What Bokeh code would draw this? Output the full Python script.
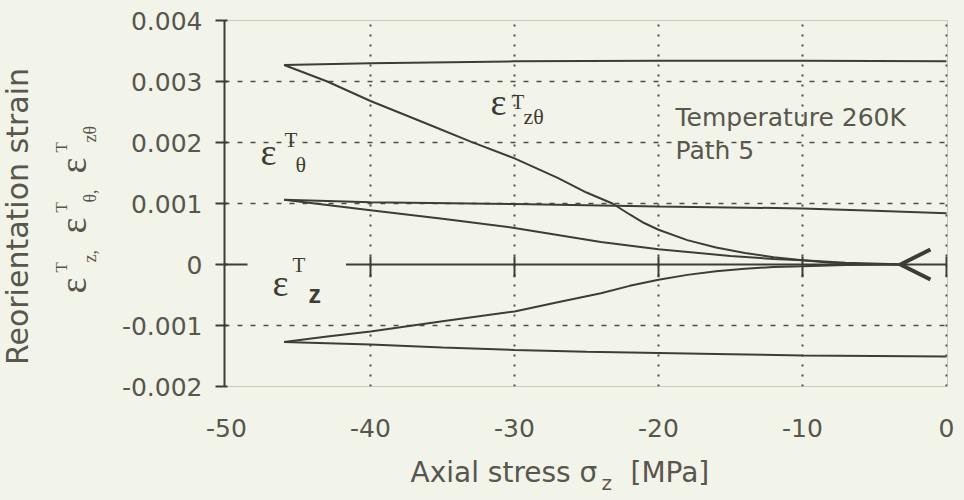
import math

from bokeh.embed import file_html
from bokeh.layouts import column, row
from bokeh.models import Arrow, CustomJSTickFormatter, FixedTicker, Label, OpenHead
from bokeh.plotting import figure
from bokeh.resources import INLINE

# ---- data: reorientation strain vs axial stress, temperature 260 K, path 5 ----
# shear component eps_z-theta
zt_load_stress = [-3, -6, -8, -10, -12, -14, -16, -18, -20, -21, -22, -23.2, -25, -27, -30, -33, -36, -40, -43, -46]
zt_load_strain = [0.0, 0.00001, 0.00003, 0.00007, 0.00012, 0.00019, 0.00028, 0.00040, 0.00057, 0.00068,
                  0.00082, 0.00100, 0.00118, 0.00142, 0.00174, 0.00201, 0.00230, 0.00268, 0.00300, 0.00327]
zt_unload_stress = [-46, -40, -30, -20, -10, 0]
zt_unload_strain = [0.00327, 0.00330, 0.00333, 0.00334, 0.00334, 0.00333]

# hoop component eps_theta
t_load_stress = [-3, -4, -7, -10, -12, -15, -20, -24, -30, -35, -40, -46]
t_load_strain = [0.0, 0.00001, 0.00003, 0.00007, 0.00009, 0.00014, 0.00025, 0.00037, 0.00060, 0.00075, 0.00089, 0.00106]
t_unload_stress = [-46, -40, -30, -20, -10, -5, 0]
t_unload_strain = [0.00106, 0.00102, 0.00099, 0.00095, 0.00092, 0.00088, 0.00084]

# axial component eps_z
z_load_stress = [-3, -4, -7, -10, -12, -14, -16, -18, -20, -22, -24, -27, -30, -35, -40, -43, -46]
z_load_strain = [0.0, 0.0, -0.00001, -0.00003, -0.00004, -0.00007, -0.00011, -0.00017, -0.00025, -0.00035,
                 -0.00047, -0.00062, -0.00077, -0.00093, -0.00110, -0.00118, -0.00127]
z_unload_stress = [-46, -43, -40, -35, -30, -25, -20, -15, -10, -5, 0]
z_unload_strain = [-0.00127, -0.00129, -0.00131, -0.00136, -0.00140, -0.00143, -0.00145, -0.00147, -0.00149,
                   -0.00150, -0.00151]

x_ticks = [-50, -40, -30, -20, -10, 0]
y_ticks = [-0.002, -0.001, 0, 0.001, 0.002, 0.003, 0.004]
x_grid = [-40, -30, -20, -10, 0]
y_grid = [-0.001, 0.001, 0.002, 0.003]

# ---- styling ----
BG = "#f3f4e9"
INK = "#3d3d36"
TXT = "#57574f"
GRID = "#4d4d46"

W, H = 964, 500
LEFT_W = 110      # strip holding the rotated y titles
BOTTOM_H = 50     # strip holding the x title
X0, X1 = -50.14, 0.07
Y0, Y1 = -0.002, 0.004
FL, FR, FT, FB = 224, 947, 20, 386  # plot frame edges in page pixels
DROP = 0.4        # label glyphs sit this fraction of the font size below the anchor

p = figure(width=W - LEFT_W, height=H - BOTTOM_H, x_range=(X0, X1), y_range=(Y0, Y1),
           output_backend="svg", toolbar_location=None,
           min_border_left=FL - LEFT_W, min_border_right=W - FR, min_border_top=FT,
           min_border_bottom=H - BOTTOM_H - FB,
           background_fill_color=BG, border_fill_color=BG)

p.outline_line_color = "#c9cabd"
p.outline_line_width = 1

# grid
p.xgrid.ticker = FixedTicker(ticks=x_grid)
p.ygrid.ticker = FixedTicker(ticks=y_grid)
p.xgrid.grid_line_color = GRID
p.xgrid.grid_line_dash = "2 8"
p.xgrid.grid_line_width = 2
p.ygrid.grid_line_color = GRID
p.ygrid.grid_line_dash = "5 8"
p.ygrid.grid_line_width = 1.5

# y axis
p.yaxis.ticker = FixedTicker(ticks=y_ticks)
p.yaxis.formatter = CustomJSTickFormatter(code="return tick == 0 ? '0' : tick.toFixed(3);")
p.yaxis.axis_line_color = INK
p.yaxis.axis_line_width = 2
p.yaxis.major_tick_line_color = INK
p.yaxis.major_tick_line_width = 2
p.yaxis.major_tick_out = 9
p.yaxis.major_tick_in = 3
p.yaxis.minor_tick_line_color = None
p.yaxis.major_label_standoff = 13
p.yaxis.major_label_text_font = "DejaVu Sans"
p.yaxis.major_label_text_font_size = "25px"
p.yaxis.major_label_text_color = TXT

# x axis
p.xaxis.ticker = FixedTicker(ticks=x_ticks)
p.xaxis.formatter = CustomJSTickFormatter(code="return tick.toFixed(0);")
p.xaxis.axis_line_color = None
p.xaxis.major_tick_line_color = None
p.xaxis.minor_tick_line_color = None
p.xaxis.major_label_standoff = 26
p.xaxis.major_label_text_font = "DejaVu Sans"
p.xaxis.major_label_text_font_size = "25px"
p.xaxis.major_label_text_color = TXT

# zero reference line (interrupted behind the eps_z label) with small cross ticks
p.segment(x0=[X0, -41.7], y0=[0, 0], x1=[-48.54, 0], y1=[0, 0], line_color=INK, line_width=2)
p.segment(x0=x_grid, y0=[0.00013] * len(x_grid), x1=x_grid, y1=[-0.00021] * len(x_grid),
          line_color=INK, line_width=2)

# strain branches
for xs, ys in [(zt_load_stress, zt_load_strain), (zt_unload_stress, zt_unload_strain),
               (t_load_stress, t_load_strain), (t_unload_stress, t_unload_strain),
               (z_load_stress, z_load_strain), (z_unload_stress, z_unload_strain)]:
    p.line(xs, ys, line_color=INK, line_width=2)

# loading direction marker
p.add_layout(Arrow(end=OpenHead(size=30, line_color=INK, line_width=4), x_start=-1.0, y_start=0,
                   x_end=-3.2, y_end=0, line_color=INK, line_width=2, line_alpha=0))


def strip(width, height, xr, yr):
    s = figure(width=width, height=height, x_range=xr, y_range=yr, output_backend="svg",
               toolbar_location=None, x_axis_location=None, y_axis_location=None,
               min_border=0, background_fill_color=BG, border_fill_color=BG)
    s.grid.visible = False
    s.outline_line_color = None
    return s


# left strip (y titles) and bottom strip (x title); both use page pixels, y measured upward
left = strip(LEFT_W, H, (0, LEFT_W), (0, H))
bottom = strip(W - LEFT_W, BOTTOM_H, (FL, FR), (0, BOTTOM_H))

mappers = {
    "main": (p, lambda px, py: (X0 + (px - FL) * (X1 - X0) / (FR - FL),
                                Y1 - (py - FT) * (Y1 - Y0) / (FB - FT))),
    "left": (left, lambda px, py: (px, H - py)),
    "bottom": (bottom, lambda px, py: (px, H - py)),
}


def txt(where, px, py, text, size, font="Liberation Serif", color=INK, rotated=False, align="left",
        style="normal"):
    """place a text with its baseline start at page pixel (px, py)"""
    fig, to_data = mappers[where]
    if rotated:
        px -= DROP * size
    else:
        py -= DROP * size
    x, y = to_data(px, py)
    fig.add_layout(Label(x=x, y=y, text=text, text_font=font, text_font_size=f"{size}px",
                         text_color=color, angle=math.pi / 2 if rotated else 0.0, text_align=align,
                         text_baseline="alphabetic", text_font_style=style))


# curve labels
txt("main", 260, 167, "ε", 38)
txt("main", 284, 148, "T", 21)
txt("main", 295, 173, "θ", 22)

txt("main", 490, 117, "ε", 38)
txt("main", 511, 110, "T", 21)
txt("main", 523, 125, "zθ", 22)

txt("main", 272, 298, "ε", 38)
txt("main", 292, 273, "T", 21)
txt("main", 308, 303, "z", 25, font="Liberation Sans", style="bold")

# condition note
txt("main", 675, 127, "Temperature 260K", 25, font="DejaVu Sans", color=TXT)
txt("main", 675, 160, "Path 5", 25, font="DejaVu Sans", color=TXT)

# y titles
txt("left", 29, 216, "Reorientation strain", 30, font="DejaVu Sans", color=TXT, rotated=True, align="center")
for start, sub in [(293, "z,"), (233, "θ,"), (173, "zθ")]:
    txt("left", 88, start, "ε", 38, color=TXT, rotated=True)
    txt("left", 68, start - 21, "T", 17, color=TXT, rotated=True)
    txt("left", 97, start - 31, sub, 18, color=TXT, rotated=True)

# x title with subscript
txt("bottom", 410, 483, "Axial stress σ", 28, font="DejaVu Sans", color=TXT)
txt("bottom", 601, 490, "z", 20, font="DejaVu Sans", color=TXT)
txt("bottom", 630, 483, "[MPa]", 28, font="DejaVu Sans", color=TXT)

page_style = {"background-color": BG}
layout = row(left, column(p, bottom, spacing=0, styles=page_style), spacing=0, styles=page_style)
html = file_html(layout, INLINE)
html = html.replace("</head>", f"<style>html, body {{ margin: 0; background: {BG}; }}</style></head>", 1)
open("out.html", "w").write(html)
